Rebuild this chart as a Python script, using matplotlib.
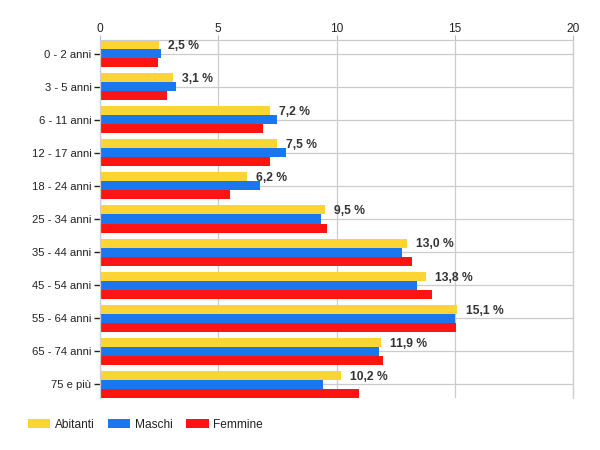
import matplotlib
matplotlib.use("Agg")
import matplotlib.pyplot as plt
import numpy as np
from matplotlib.patches import Patch

categories = ["0 - 2 anni", "3 - 5 anni", "6 - 11 anni", "12 - 17 anni", "18 - 24 anni",
              "25 - 34 anni", "35 - 44 anni", "45 - 54 anni", "55 - 64 anni", "65 - 74 anni",
              "75 e più"]
abitanti = [2.5, 3.1, 7.2, 7.5, 6.2, 9.5, 13.0, 13.8, 15.1, 11.9, 10.2]
maschi = [2.6, 3.2, 7.5, 7.85, 6.75, 9.35, 12.75, 13.4, 15.0, 11.8, 9.45]
femmine = [2.45, 2.85, 6.9, 7.2, 5.5, 9.6, 13.2, 14.05, 15.05, 11.95, 10.95]
series_names = ["Abitanti", "Maschi", "Femmine"]
xticks = [0, 5, 10, 15, 20]

colors = ["#FCD535", "#1A77EE", "#FF1414"]

plt.rcParams['font.family'] = ['Liberation Sans', 'DejaVu Sans']

fig = plt.figure(figsize=(6, 4.5), dpi=100)
ax = fig.add_axes([100/600, 1-398/450, 473/600, 358/450])

y = np.arange(len(categories))
h = 9/33
for k, (vals, col) in enumerate(zip([abitanti, maschi, femmine], colors)):
    ax.barh(y + (k-1)*h, vals, height=h, color=col, zorder=2, linewidth=0)

for i, v in enumerate(abitanti):
    ax.annotate(f"{v:.1f}".replace('.', ',') + " %", (v, y[i] - h), xytext=(6.5, -1),
                textcoords='offset points', va='center', ha='left', fontsize=8.7,
                fontweight='bold', color='#333333', zorder=3)

ax.set_xlim(0, 20)
ax.set_ylim(len(categories) - 1 + 13.5/33, -13.5/33)
ax.set_xticks(xticks)
ax.set_yticks(y)
ax.set_yticklabels(categories)
ax.xaxis.tick_top()
ax.tick_params(axis='x', direction='out', length=3.4, color='#bbbbbb', labelsize=8.6,
               pad=0.2, labelcolor='#222222')
ax.tick_params(axis='y', direction='out', length=4.6, color='#222222', width=1,
               labelsize=8.1, pad=1.6, labelcolor='#222222')
ax.grid(True, color='#cccccc', linewidth=0.9, zorder=0)
ax.set_axisbelow(True)
for s in ['bottom']:
    ax.spines[s].set_visible(False)
for s in ['top', 'left', 'right']:
    ax.spines[s].set_color('#cccccc')
    ax.spines[s].set_linewidth(0.9)

handles = [Patch(facecolor=c, edgecolor='none') for c in colors]
fig.legend(handles, series_names, loc='center left', bbox_to_anchor=(17/600, 1-425/450),
           ncol=3, frameon=False, fontsize=8.6, handlelength=1.85, handleheight=0.8,
           handletextpad=0.4, columnspacing=1.15, labelcolor='#222222')

fig.savefig("out.png", dpi=100)
